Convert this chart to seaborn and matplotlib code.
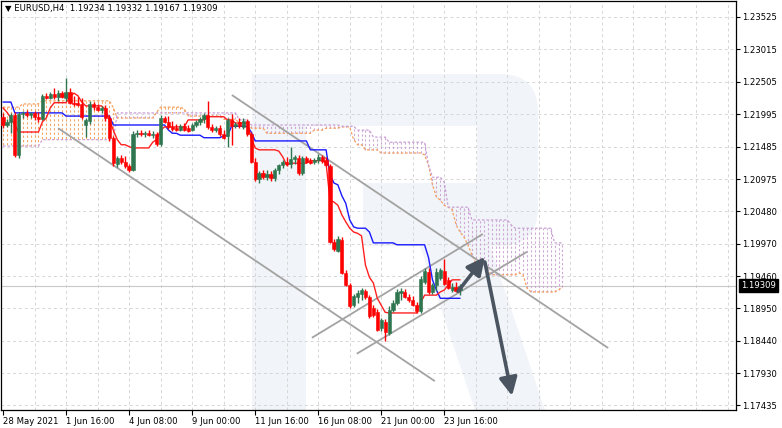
import numpy as np
import pandas as pd
import matplotlib
matplotlib.use("Agg")
import matplotlib.pyplot as plt
import seaborn as sns
from matplotlib.patches import Rectangle, FancyBboxPatch, Polygon, FancyArrowPatch
from matplotlib.collections import LineCollection
import matplotlib.transforms as mtransforms

sns.set_style("white")
plt.rcParams['font.family'] = ['DejaVu Sans']

# ---------------- data ----------------
title = "\u25bc EURUSD,H4  1.19234 1.19332 1.19167 1.19309"
x_labels = ["28 May 2021", "1 Jun 16:00", "4 Jun 08:00", "9 Jun 00:00",
            "11 Jun 16:00", "16 Jun 08:00", "21 Jun 00:00", "23 Jun 16:00"]
y_ticks = [1.23525, 1.23015, 1.22505, 1.21995, 1.21485, 1.20975, 1.20480,
           1.19970, 1.19460, 1.18950, 1.18440, 1.17930, 1.17435]
y_tick_labels = ["1.23525", "1.23015", "1.22505", "1.21995", "1.21485", "1.20975", "1.20480",
                 "1.19970", "1.19460", "1.18950", "1.18440", "1.17930", "1.17435"]
last_price = 1.19309
last_price_label = "1.19309"

opens = [1.2196, 1.2183, 1.2188, 1.2199, 1.2136, 1.2200, 1.2202, 1.2199, 1.2202, 1.2196,
         1.2192, 1.2228, 1.2225, 1.2232, 1.2227, 1.2233, 1.2225, 1.2235, 1.2217, 1.2217,
         1.2216, 1.2183, 1.2189, 1.2216, 1.2211, 1.2207, 1.2210, 1.2194, 1.2163, 1.2121,
         1.2131, 1.2125, 1.2119, 1.2112, 1.2169, 1.2171, 1.2169, 1.2171, 1.2168, 1.2169,
         1.2153, 1.2194, 1.2188, 1.2180, 1.2179, 1.2175, 1.2182, 1.2179, 1.2175, 1.2183,
         1.2188, 1.2192, 1.2199, 1.2180, 1.2175, 1.2179, 1.2169, 1.2166, 1.2191, 1.2182,
         1.2188, 1.2180, 1.2189, 1.2169, 1.2125, 1.2098, 1.2108, 1.2101, 1.2106, 1.2100,
         1.2112, 1.2120, 1.2125, 1.2122, 1.2130, 1.2131, 1.2108, 1.2131, 1.2127, 1.2125,
         1.2128, 1.2133, 1.2128, 1.2119, 1.2000, 1.1986, 1.2003, 1.1951, 1.1932, 1.1900,
         1.1913, 1.1918, 1.1922, 1.1913, 1.1896, 1.1890, 1.1864, 1.1874, 1.1856, 1.1893,
         1.1904, 1.1919, 1.1921, 1.1913, 1.1908, 1.1901, 1.1891, 1.1936, 1.1952, 1.1921,
         1.1932, 1.1943, 1.1954, 1.1940, 1.1924, 1.1929, 1.19234]
highs = [1.2202, 1.2192, 1.2202, 1.2203, 1.2203, 1.2205, 1.2207, 1.2203, 1.2205, 1.2203,
         1.2232, 1.2233, 1.2235, 1.2241, 1.2238, 1.2236, 1.2257, 1.2241, 1.2228, 1.2227,
         1.2225, 1.2194, 1.2221, 1.2219, 1.2216, 1.2213, 1.2214, 1.2199, 1.2166, 1.2134,
         1.2136, 1.2134, 1.2122, 1.2174, 1.2175, 1.2175, 1.2174, 1.2175, 1.2174, 1.2172,
         1.2199, 1.2197, 1.2197, 1.2189, 1.2185, 1.2185, 1.2186, 1.2183, 1.2186, 1.2191,
         1.2196, 1.2202, 1.2221, 1.2185, 1.2181, 1.2183, 1.2175, 1.2194, 1.2200, 1.2188,
         1.2194, 1.2194, 1.2192, 1.2172, 1.2131, 1.2111, 1.2112, 1.2112, 1.2111, 1.2116,
         1.2122, 1.2128, 1.2133, 1.2149, 1.2136, 1.2136, 1.2134, 1.2134, 1.2131, 1.2131,
         1.2137, 1.2136, 1.2133, 1.2122, 1.2004, 1.2009, 1.2007, 1.1955, 1.1935, 1.1918,
         1.1924, 1.1927, 1.1925, 1.1916, 1.1900, 1.1894, 1.1880, 1.1879, 1.1899, 1.1908,
         1.1925, 1.1927, 1.1925, 1.1918, 1.1915, 1.1905, 1.1946, 1.1959, 1.1959, 1.1935,
         1.1959, 1.1959, 1.1973, 1.1944, 1.1935, 1.1937, 1.19332]
lows = [1.2178, 1.2180, 1.2170, 1.2133, 1.2131, 1.2194, 1.2196, 1.2194, 1.2191, 1.2188,
        1.2191, 1.2224, 1.2224, 1.2224, 1.2221, 1.2225, 1.2221, 1.2216, 1.2213, 1.2213,
        1.2192, 1.2164, 1.2185, 1.2207, 1.2205, 1.2202, 1.2189, 1.2158, 1.2119, 1.2117,
        1.2122, 1.2116, 1.2109, 1.2111, 1.2164, 1.2166, 1.2164, 1.2166, 1.2163, 1.2150,
        1.2150, 1.2186, 1.2177, 1.2174, 1.2174, 1.2174, 1.2174, 1.2172, 1.2174, 1.2180,
        1.2183, 1.2186, 1.2177, 1.2172, 1.2172, 1.2166, 1.2161, 1.2149, 1.2152, 1.2178,
        1.2178, 1.2177, 1.2166, 1.2123, 1.2095, 1.2092, 1.2098, 1.2097, 1.2095, 1.2095,
        1.2106, 1.2116, 1.2119, 1.2116, 1.2122, 1.2105, 1.2105, 1.2123, 1.2122, 1.2122,
        1.2123, 1.2123, 1.2119, 1.1998, 1.1985, 1.1984, 1.1949, 1.1930, 1.1896, 1.1897,
        1.1904, 1.1908, 1.1910, 1.1880, 1.1882, 1.1860, 1.1860, 1.1844, 1.1853, 1.1890,
        1.1901, 1.1908, 1.1911, 1.1905, 1.1899, 1.1888, 1.1888, 1.1934, 1.1918, 1.1918,
        1.1922, 1.1940, 1.1932, 1.1926, 1.1921, 1.1921, 1.19167]
closes = [1.2183, 1.2188, 1.2199, 1.2136, 1.2200, 1.2202, 1.2199, 1.2202, 1.2196, 1.2192,
          1.2228, 1.2225, 1.2232, 1.2227, 1.2233, 1.2227, 1.2235, 1.2217, 1.2216, 1.2214,
          1.2196, 1.2191, 1.2216, 1.2211, 1.2207, 1.2210, 1.2194, 1.2163, 1.2123, 1.2131,
          1.2125, 1.2119, 1.2112, 1.2169, 1.2171, 1.2169, 1.2171, 1.2168, 1.2169, 1.2153,
          1.2194, 1.2188, 1.2180, 1.2177, 1.2175, 1.2182, 1.2175, 1.2174, 1.2183, 1.2188,
          1.2192, 1.2199, 1.2180, 1.2175, 1.2179, 1.2169, 1.2163, 1.2191, 1.2182, 1.2185,
          1.2182, 1.2189, 1.2169, 1.2125, 1.2098, 1.2108, 1.2101, 1.2106, 1.2100, 1.2112,
          1.2120, 1.2125, 1.2122, 1.2130, 1.2133, 1.2108, 1.2131, 1.2125, 1.2123, 1.2128,
          1.2133, 1.2127, 1.2120, 1.2000, 1.1988, 1.2004, 1.1951, 1.1932, 1.1899, 1.1915,
          1.1919, 1.1924, 1.1913, 1.1883, 1.1885, 1.1861, 1.1877, 1.1858, 1.1893, 1.1904,
          1.1921, 1.1922, 1.1913, 1.1908, 1.1901, 1.1891, 1.1941, 1.1954, 1.1921, 1.1932,
          1.1952, 1.1955, 1.1933, 1.1927, 1.1929, 1.1922, 1.19309]

tenkan = [1.2210, 1.2203, 1.2194, 1.2183, 1.2172, 1.2172, 1.2172, 1.2172, 1.2172, 1.2172,
          1.2188, 1.2194, 1.2210, 1.2218, 1.2218, 1.2218, 1.2218, 1.2227, 1.2233, 1.2229,
          1.2219, 1.2213, 1.2213, 1.2213, 1.2213, 1.2213, 1.2207, 1.2191, 1.2175, 1.2160,
          1.2152, 1.2152, 1.2149, 1.2147, 1.2147, 1.2147, 1.2147, 1.2147, 1.2156, 1.2160,
          1.2175, 1.2180, 1.2180, 1.2180, 1.2180, 1.2180, 1.2180, 1.2191, 1.2191, 1.2191,
          1.2191, 1.2191, 1.2196, 1.2196, 1.2196, 1.2196, 1.2196, 1.2191, 1.2191, 1.2186,
          1.2186, 1.2186, 1.2186, 1.2163, 1.2147, 1.2144, 1.2144, 1.2144, 1.2144, 1.2144,
          1.2142, 1.2133, 1.2120, 1.2123, 1.2123, 1.2123, 1.2123, 1.2123, 1.2127, 1.2127,
          1.2127, 1.2127, 1.2123, 1.2065, 1.2062, 1.2057, 1.2042, 1.2031, 1.2021, 1.2015,
          1.2013, 1.2009, 1.1963, 1.1944, 1.1935, 1.1911, 1.1900, 1.1889, 1.1888, 1.1888,
          1.1888, 1.1888, 1.1888, 1.1888, 1.1888, 1.1888, 1.1904, 1.1916, 1.1916, 1.1916,
          1.1916, 1.1921, 1.1924, 1.1932, 1.1940, 1.1940, 1.1940]
kijun = [1.2219, 1.2219, 1.2219, 1.2202, 1.2202, 1.2202, 1.2202, 1.2202, 1.2202, 1.2202,
         1.2202, 1.2202, 1.2202, 1.2202, 1.2202, 1.2202, 1.2197, 1.2197, 1.2197, 1.2197,
         1.2197, 1.2197, 1.2197, 1.2197, 1.2197, 1.2197, 1.2197, 1.2197, 1.2183, 1.2183,
         1.2183, 1.2183, 1.2183, 1.2183, 1.2183, 1.2183, 1.2183, 1.2183, 1.2183, 1.2183,
         1.2183, 1.2183, 1.2175, 1.2170, 1.2170, 1.2167, 1.2167, 1.2167, 1.2167, 1.2167,
         1.2167, 1.2163, 1.2163, 1.2163, 1.2163, 1.2163, 1.2166, 1.2166, 1.2181, 1.2181,
         1.2181, 1.2181, 1.2181, 1.2172, 1.2158, 1.2158, 1.2158, 1.2158, 1.2158, 1.2158,
         1.2158, 1.2158, 1.2158, 1.2158, 1.2158, 1.2158, 1.2158, 1.2158, 1.2144, 1.2144,
         1.2144, 1.2144, 1.2144, 1.2105, 1.2092, 1.2089, 1.2072, 1.2060, 1.2034, 1.2023,
         1.2021, 1.2021, 1.2021, 1.2015, 1.1998, 1.1998, 1.1998, 1.1998, 1.1998, 1.1998,
         1.1995, 1.1995, 1.1995, 1.1995, 1.1995, 1.1995, 1.1995, 1.1995, 1.1975, 1.1940,
         1.1924, 1.1911, 1.1911, 1.1911, 1.1911, 1.1911, 1.1911]
span_a = [1.2211, 1.2211, 1.2211, 1.2211, 1.2211, 1.2216, 1.2216, 1.2216, 1.2216, 1.2216,
          1.2221, 1.2221, 1.2221, 1.2221, 1.2221, 1.2221, 1.2221, 1.2221, 1.2221, 1.2221,
          1.2221, 1.2221, 1.2221, 1.2221, 1.2221, 1.2221, 1.2221, 1.2221, 1.2210, 1.2194,
          1.2194, 1.2194, 1.2194, 1.2194, 1.2194, 1.2194, 1.2194, 1.2194, 1.2194, 1.2203,
          1.2211, 1.2211, 1.2211, 1.2211, 1.2211, 1.2211, 1.2208, 1.2197, 1.2197, 1.2197,
          1.2197, 1.2197, 1.2197, 1.2197, 1.2197, 1.2197, 1.2192, 1.2192, 1.2192, 1.2192,
          1.2186, 1.2186, 1.2186, 1.2178, 1.2178, 1.2178, 1.2178, 1.2170, 1.2170, 1.2170,
          1.2170, 1.2170, 1.2170, 1.2170, 1.2170, 1.2170, 1.2170, 1.2170, 1.2170, 1.2175,
          1.2175, 1.2175, 1.2178, 1.2178, 1.2178, 1.2178, 1.2180, 1.2180, 1.2180, 1.2160,
          1.2152, 1.2152, 1.2144, 1.2144, 1.2144, 1.2144, 1.2139, 1.2139, 1.2139, 1.2139,
          1.2139, 1.2139, 1.2139, 1.2139, 1.2139, 1.2139, 1.2139, 1.2136, 1.2120, 1.2089,
          1.2070, 1.2065, 1.2057, 1.2054, 1.2050, 1.2026, 1.2015, 1.2007, 1.1995, 1.1979,
          1.1966, 1.1966, 1.1966, 1.1955, 1.1948, 1.1948, 1.1948, 1.1948, 1.1948, 1.1948,
          1.1948, 1.1951, 1.1948, 1.1927, 1.1921, 1.1921, 1.1921, 1.1921, 1.1921, 1.1921,
          1.1921, 1.1924, 1.1929]
span_b = [1.2150, 1.2150, 1.2150, 1.2150, 1.2150, 1.2150, 1.2150, 1.2150, 1.2150, 1.2150,
          1.2160, 1.2160, 1.2160, 1.2160, 1.2160, 1.2160, 1.2160, 1.2160, 1.2160, 1.2160,
          1.2160, 1.2160, 1.2160, 1.2160, 1.2160, 1.2160, 1.2160, 1.2160, 1.2160, 1.2202,
          1.2202, 1.2202, 1.2202, 1.2202, 1.2202, 1.2202, 1.2202, 1.2202, 1.2202, 1.2202,
          1.2202, 1.2202, 1.2202, 1.2202, 1.2202, 1.2202, 1.2202, 1.2202, 1.2202, 1.2202,
          1.2202, 1.2202, 1.2202, 1.2202, 1.2202, 1.2202, 1.2202, 1.2202, 1.2202, 1.2202,
          1.2191, 1.2191, 1.2191, 1.2183, 1.2183, 1.2183, 1.2183, 1.2183, 1.2183, 1.2183,
          1.2183, 1.2183, 1.2183, 1.2183, 1.2183, 1.2183, 1.2183, 1.2183, 1.2183, 1.2183,
          1.2183, 1.2183, 1.2183, 1.2183, 1.2183, 1.2183, 1.2181, 1.2181, 1.2181, 1.2181,
          1.2175, 1.2175, 1.2175, 1.2175, 1.2164, 1.2164, 1.2164, 1.2164, 1.2156, 1.2156,
          1.2156, 1.2156, 1.2156, 1.2156, 1.2156, 1.2156, 1.2156, 1.2156, 1.2120, 1.2101,
          1.2101, 1.2101, 1.2093, 1.2054, 1.2054, 1.2054, 1.2054, 1.2054, 1.2054, 1.2034,
          1.2034, 1.2034, 1.2034, 1.2034, 1.2034, 1.2034, 1.2034, 1.2034, 1.2034, 1.2026,
          1.2021, 1.2021, 1.2021, 1.2021, 1.2021, 1.2021, 1.2021, 1.2021, 1.2021, 1.2021,
          1.1998, 1.1998, 1.1998]

# annotation lines (bar index, price)
channel_down = [((58.1, 1.2230), (153.6, 1.1833)),
                ((14.0, 1.2178), (109.6, 1.1781))]
channel_up = [((78.4, 1.1849), (121.8, 1.2012)),
              ((89.8, 1.1824), (133.0, 1.1984))]
arrow_up = ((115.5, 1.1922), (122.3, 1.1976))
arrow_down = ((122.3, 1.1968), (129.2, 1.1758))

# ---------------- figure ----------------
W, H = 782, 428
fig = plt.figure(figsize=(W / 100, H / 100), dpi=100)
fig.patch.set_facecolor("white")

# background layer (watermark) in pixel coordinates
bg = fig.add_axes([0, 0, 1, 1], zorder=0)
bg.set_xlim(0, W)
bg.set_ylim(H, 0)
bg.axis("off")
wm = "#f1f4f8"
bg.add_patch(FancyBboxPatch((252, 74), 286, 172, boxstyle="round,pad=0,rounding_size=38",
                            fc=wm, ec="none"))
bg.add_patch(Rectangle((252, 74), 54, 336, fc=wm, ec="none"))
bg.add_patch(Rectangle((306, 126), 171, 57, fc="white", ec="none"))
bg.add_patch(Rectangle((306, 183), 57, 64, fc="white", ec="none"))
bg.add_patch(Polygon([(420, 246), (490, 246), (545, 410), (475, 410)], closed=True, fc=wm, ec="none"))

AX_L, AX_R, AX_T, AX_B = 1, 736, 1, 410
ax = fig.add_axes([AX_L / W, (H - AX_B) / H, (AX_R - AX_L) / W, (AX_B - AX_T) / H], zorder=1)
ax.patch.set_alpha(0)

n = len(closes)
idx = np.arange(n)
o = np.array(opens); h = np.array(highs); l = np.array(lows); c = np.array(closes)

# grid
for v in y_ticks:
    ax.axhline(v, color="#d6d6d6", lw=0.7, ls=(0, (3, 3)), zorder=0.5)
for k in range(8, 188, 8):
    ax.axvline(k, color="#d6d6d6", lw=0.7, ls=(0, (3, 3)), zorder=0.5)

# current price line
ax.axhline(last_price, color="#c8c8c8", lw=0.8, zorder=0.6)

# Ichimoku cloud hatch
ncloud = len(span_a)
sa = np.array(span_a); sb = np.array(span_b)
segs, cols = [], []
for i in range(ncloud):
    segs.append([(i, sa[i]), (i, sb[i])])
    cols.append("#f5a665" if sa[i] >= sb[i] else "#cfa8d8")
ax.add_collection(LineCollection(segs, colors=cols, linewidths=0.8,
                                 linestyles=[(0, (2, 2))], zorder=1))
ax.plot(np.arange(ncloud), sa, color="#f5a060", lw=0.9, ls=(0, (2, 1.5)), zorder=1.2)
ax.plot(np.arange(ncloud), sb, color="#c9a0d6", lw=0.9, ls=(0, (2, 1.5)), zorder=1.2)

# trend lines
for (p1, p2) in channel_down + channel_up:
    ax.plot([p1[0], p2[0]], [p1[1], p2[1]], color="#a3a3a3", lw=1.3, zorder=2,
            solid_capstyle="butt")

# Tenkan / Kijun via seaborn
df = pd.DataFrame({"bar": idx, "tenkan": tenkan, "kijun": kijun})
sns.lineplot(data=df, x="bar", y="kijun", ax=ax, color="#1a1aff", lw=1.0, zorder=3)
sns.lineplot(data=df, x="bar", y="tenkan", ax=ax, color="#ff2020", lw=1.0, zorder=3)

# candles
up_col, dn_col = "#2f7650", "#ff0000"
colors = np.where(c >= o, up_col, dn_col)
ax.vlines(idx, l, h, colors=colors, lw=1.0, zorder=4)
body_lo = np.minimum(o, c)
body_h = np.maximum(np.abs(c - o), 0.00014)
ax.bar(idx, body_h, bottom=body_lo, width=0.82, color=colors, edgecolor=colors,
       linewidth=0.4, zorder=5)

# arrows
for (p1, p2) in (arrow_up, arrow_down):
    ax.add_patch(FancyArrowPatch(p1, p2, arrowstyle="-|>,head_length=0.9,head_width=0.45",
                                 mutation_scale=12, color="#4a5561", lw=2.6, zorder=6,
                                 shrinkA=0, shrinkB=0))

# axes formatting: bar i sits at pixel 3 + 3.94*i
ax.set_xlim((AX_L - 3) / 3.94, (AX_R - 3) / 3.94)
ax.set_ylim(1.17357, 1.23776)
ax.set_xlabel("")
ax.set_ylabel("")
ax.set_yticks(y_ticks)
ax.set_yticklabels(y_tick_labels)
ax.yaxis.tick_right()
ax.tick_params(axis="y", direction="out", length=3, width=0.8, pad=1.5, labelsize=6.1,
               colors="black", right=True, left=False)
ax.set_xticks([16 * k for k in range(len(x_labels))])
ax.set_xticklabels(x_labels, ha="left")
ax.tick_params(axis="x", direction="out", length=3.5, width=0.8, pad=1.5, labelsize=6.1,
               colors="black", bottom=True)
for lab in ax.get_xticklabels():
    lab.set_horizontalalignment("left")
for s in ax.spines.values():
    s.set_visible(True)
    s.set_color("black")
    s.set_linewidth(0.9)
ax.grid(False)

# last price tag
trans = mtransforms.blended_transform_factory(ax.transAxes, ax.transData)
ax.text(1 + 5 / (AX_R - AX_L), last_price, last_price_label, transform=trans, ha="left",
        va="center", fontsize=6.1, color="white", zorder=10, clip_on=False,
        bbox=dict(boxstyle="square,pad=0.25", fc="black", ec="black"))

# title
ax.text(4 / (AX_R - AX_L), 1 - 8 / (AX_B - AX_T), title, transform=ax.transAxes, ha="left",
        va="center", fontsize=6.1, color="black", zorder=10)

fig.savefig("out.png", dpi=100, facecolor="white")
